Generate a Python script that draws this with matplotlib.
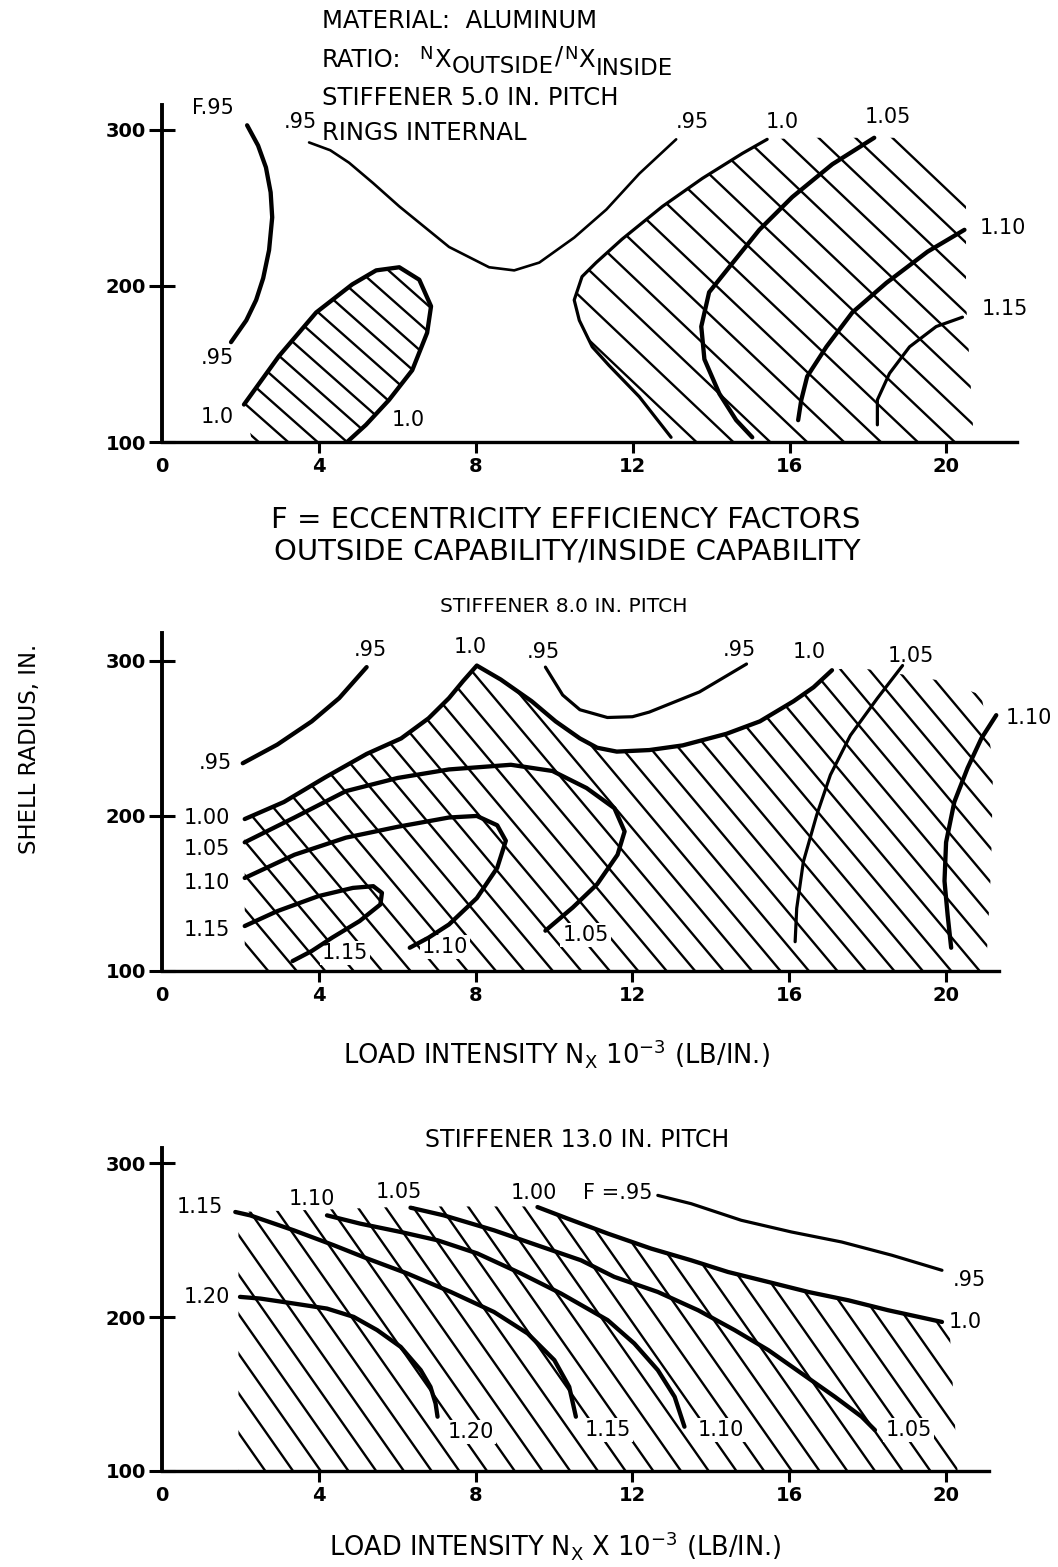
import numpy as np
import matplotlib
matplotlib.use('Agg')
import matplotlib.pyplot as plt
from matplotlib.patches import Polygon

W, H = 1058, 1567
TXT = 'DejaVu Sans'
LAB = 'DejaVu Sans'
LABSIZE = 15

THICK, MED, THIN, HLW = 3.1, 2.3, 1.9, 1.7

# ---------------- panel 1 : stiffener 5.0 in. pitch ----------------
p1_f95_x = [2.17, 2.45, 2.65, 2.77, 2.81, 2.73, 2.58, 2.40, 2.15, 1.76]
p1_f95_y = [303, 290, 276, 260, 244, 223, 205, 191, 178, 164]
p1_95_x = [3.75, 4.29, 4.77, 5.38, 6.05, 7.32, 8.34, 8.98, 9.62, 10.51, 11.33, 12.17, 13.11]
p1_95_y = [292, 287, 279, 266, 251, 225, 212, 210, 215, 231, 249, 272, 294]
p1_blob_x = [2.09, 2.98, 3.93, 4.85, 5.46, 6.05, 6.56, 6.86, 6.76, 6.38, 5.79, 5.20, 4.72]
p1_blob_y = [124, 155, 183, 201, 210, 212, 204, 187, 170, 146, 127, 111, 100]
p1_blob_edge_x = [2.3]
p1_blob_edge_y = [100]
p1_10_x = [12.98, 12.17, 11.40, 10.97, 10.64, 10.51, 10.71, 11.07, 11.73, 12.76, 13.78, 14.80, 15.43]
p1_10_y = [103, 129, 149, 161, 178, 191, 206, 215, 230, 251, 269, 285, 294]
p1_edge_x = [16.4, 19.2, 20.5, 20.5, 20.7, 13.1]
p1_edge_y = [295, 295, 268, 191, 100, 100]
p1_105_x = [18.16, 17.09, 16.07, 15.23, 14.46, 13.95, 13.75, 13.83, 14.21, 14.64, 15.05]
p1_105_y = [295, 278, 257, 236, 212, 196, 174, 153, 131, 114, 103]
p1_110_x = [20.46, 19.52, 18.47, 17.60, 16.94, 16.45, 16.30, 16.22]
p1_110_y = [236, 222, 202, 183, 161, 142, 127, 114]
p1_115_x = [20.41, 19.74, 19.06, 18.55, 18.24, 18.24]
p1_115_y = [180, 174, 161, 144, 127, 111]
p1_labels = [('F.95', 1.30, 314), ('.95', 1.40, 154), ('.95', 3.52, 305), ('.95', 13.52, 305),
             ('1.0', 1.40, 116), ('1.0', 6.28, 114), ('1.0', 15.82, 305), ('1.05', 18.5, 308),
             ('1.10', 21.45, 237), ('1.15', 21.5, 185)]

# ---------------- panel 2 : stiffener 8.0 in. pitch ----------------
p2_95a_x = [2.06, 2.94, 3.82, 4.52, 5.22]
p2_95a_y = [234, 246, 261, 276, 296]
p2_10_x = [2.11, 3.11, 4.17, 5.22, 6.10, 6.80, 7.32, 7.68, 8.03, 8.64, 9.43, 10.04, 10.66,
           11.10, 11.6, 12.43, 13.28, 14.40, 15.25, 16.11, 16.62, 17.09]
p2_10_y = [198, 209, 225, 240, 250, 263, 276, 287, 297, 288, 274, 261, 250,
           244, 241.5, 242.5, 245.5, 253, 261, 274, 283, 294]
p2_edge_x = [17.65, 19.23, 19.91, 20.90, 21.20, 21.15, 21.02, 2.11]
p2_edge_y = [296, 290, 287, 278, 235, 168, 100, 100]
p2_95b_x = [9.78, 10.22, 10.66, 11.36, 12.0, 12.43, 13.71, 14.91]
p2_95b_y = [296, 278, 268.5, 263.5, 264, 267, 280, 298]
p2_105_x = [2.11, 3.38, 4.69, 6.01, 7.32, 8.90, 9.96, 10.83, 11.54, 11.80, 11.62, 11.10, 10.48, 9.78]
p2_105_y = [183, 199, 216, 224.5, 230, 233, 229, 218, 205, 190, 175, 156, 141, 126]
p2_110_x = [2.11, 3.38, 4.69, 6.01, 7.32, 8.03, 8.55, 8.77, 8.55, 8.03, 7.32, 6.80, 6.32]
p2_110_y = [160, 175, 186, 193, 199, 200, 194, 184, 166.5, 147, 130, 121.5, 115]
p2_115_x = [2.11, 2.94, 3.99, 4.87, 5.39, 5.61, 5.57, 5.04, 4.34, 3.82, 3.33]
p2_115_y = [129, 138.6, 148.3, 153.6, 154.7, 150.4, 142.9, 132.2, 121.5, 112.9, 106.4]
p2_105r_x = [18.89, 18.25, 17.56, 17.05, 16.70, 16.36, 16.19, 16.15]
p2_105r_y = [297, 276, 252, 226.5, 200.6, 170.5, 140.4, 118.9]
p2_110r_x = [21.28, 20.90, 20.55, 20.21, 20.0, 19.96, 20.04, 20.13]
p2_110r_y = [265, 250, 231, 209, 183, 158, 136, 115]
p2_labels = [('.95', 1.35, 234), ('.95', 5.31, 307), ('1.0', 7.86, 309), ('.95', 9.72, 306),
             ('.95', 14.74, 307), ('1.0', 16.5, 306), ('1.05', 19.1, 303), ('1.10', 22.1, 263),
             ('1.00', 1.15, 199), ('1.05', 1.15, 179), ('1.10', 1.15, 157), ('1.15', 1.15, 126.5)]
p2_inner_labels = [('1.15', 4.67, 111.6), ('1.10', 7.22, 115.5), ('1.05', 10.8, 123)]

# ---------------- panel 3 : stiffener 13.0 in. pitch ----------------
p3_115_x = [1.87, 2.25, 3.36, 4.38, 5.24, 6.26, 7.37, 8.47, 9.33, 10.01, 10.39, 10.56]
p3_115_y = [268.4, 266.2, 256.5, 246.8, 238.1, 228.4, 216.4, 203.4, 189.4, 172.1, 154.7, 135.3]
p3_110_x = [4.21, 5.06, 6.09, 7.03, 8.05, 9.16, 10.18, 11.37, 12.05, 12.65, 13.08, 13.33]
p3_110_y = [266.2, 260.8, 255.4, 250.0, 241.4, 228.4, 215.4, 198.1, 182.9, 165.6, 148.2, 128.8]
p3_105_x = [6.34, 7.19, 8.47, 9.33, 10.69, 11.54, 12.65, 13.68, 14.61, 15.47, 16.32, 17.17, 17.85, 18.19]
p3_105_y = [271.2, 266.2, 256.5, 248.9, 237.0, 226.2, 216.4, 204.5, 191.6, 178.6, 163.4, 148.2, 135.3, 126.6]
p3_10_x = [9.58, 10.35, 11.37, 12.48, 13.50, 14.44, 15.47, 16.49, 17.51, 18.53, 19.90]
p3_10_y = [271.6, 264.1, 254.4, 244.6, 237.0, 229.4, 222.9, 216.4, 211.0, 204.5, 196.9]
p3_95_x = [12.65, 13.50, 14.78, 16.06, 17.34, 18.62, 19.90]
p3_95_y = [279.2, 273.8, 263.0, 255.4, 248.9, 240.3, 230.5]
p3_120_x = [1.99, 2.51, 3.36, 4.21, 4.89, 5.49, 6.09, 6.60, 6.85, 6.98, 7.03]
p3_120_y = [213.2, 212.1, 208.9, 205.6, 200.2, 191.6, 180.7, 165.6, 154.7, 143.9, 135.3]
p3_left_x = [1.95, 1.95, 1.87, 4.2, 6.3, 9.3]
p3_left_y = [100, 255, 268.4, 270, 272, 272]
p3_right_x = [20.1, 20.3]
p3_right_y = [190, 100]
p3_labels = [('1.15', 0.97, 271.6), ('1.10', 3.83, 277), ('1.05', 6.04, 281.4), ('1.00', 9.49, 280.5),
             ('F =.95', 11.64, 280.5), ('.95', 20.6, 224), ('1.0', 20.49, 196.8), ('1.20', 1.14, 213.2)]
p3_inner_labels = [('1.20', 7.88, 125.5), ('1.15', 11.37, 126.6), ('1.10', 14.27, 126.6), ('1.05', 19.05, 126.6)]

xticks = [0, 4, 8, 12, 16, 20]
yticks = [100, 200, 300]

plt.rcParams['font.family'] = 'DejaVu Sans'
fig = plt.figure(figsize=(W / 100, H / 100), dpi=100)


def make_axes(left, right, base, top, xmax, ymax):
    ax = fig.add_axes([left / W, 1 - base / H, (right - left) / W, (base - top) / H])
    ax.set_xlim(0, xmax)
    ax.set_ylim(100, ymax)
    for s in ['top', 'right']:
        ax.spines[s].set_visible(False)
    ax.spines['left'].set_linewidth(2.8)
    ax.spines['bottom'].set_linewidth(2.4)
    ax.set_xticks(xticks)
    ax.set_yticks(yticks)
    ax.tick_params(axis='y', direction='inout', length=19, width=2.2, pad=2, labelsize=14)
    ax.tick_params(axis='x', direction='out', length=8, width=2.2, pad=3, labelsize=14)
    ax.xaxis.get_major_ticks()[0].tick1line.set_visible(False)
    for lab in ax.get_xticklabels() + ax.get_yticklabels():
        lab.set_fontweight('bold')
    return ax


def hatch(ax, xs, ys, angle, step, lw=HLW):
    verts = np.column_stack([xs, ys])
    poly = Polygon(verts, closed=True, fill=False, edgecolor='none')
    ax.add_patch(poly)
    pix = ax.transData.transform(verts)
    a = np.radians(angle)
    d = np.array([np.cos(a), -np.sin(a)])
    n = np.array([np.sin(a), np.cos(a)])
    proj = pix @ n
    along = pix @ d
    inv = ax.transData.inverted()
    for off in np.arange(np.floor(proj.min() / step) * step, proj.max() + step, step):
        p0 = n * off + d * (along.min() - 20)
        p1 = n * off + d * (along.max() + 20)
        q = inv.transform([p0, p1])
        ln, = ax.plot(q[:, 0], q[:, 1], color='k', lw=lw, solid_capstyle='butt', zorder=2)
        ln.set_clip_path(poly)


def curve(ax, x, y, lw):
    ax.plot(x, y, color='k', lw=lw, solid_joinstyle='round', solid_capstyle='round', zorder=4)


def labels(ax, items, boxed=False):
    for s, x, y in items:
        kw = {}
        if boxed:
            kw['bbox'] = dict(fc='white', ec='none', pad=1.5)
        ax.text(x, y, s, ha='center', va='center', fontsize=LABSIZE, family=LAB, zorder=3, **kw)


# panel 1
ax1 = make_axes(162, 1017, 442, 105, 21.8, 316)
hatch(ax1, p1_blob_x + p1_blob_edge_x, p1_blob_y + p1_blob_edge_y, 41.5, 19.5)
hatch(ax1, p1_10_x + p1_edge_x, p1_10_y + p1_edge_y, 43.5, 25.4)
curve(ax1, p1_f95_x, p1_f95_y, THICK)
curve(ax1, p1_95_x, p1_95_y, THIN)
curve(ax1, p1_blob_x, p1_blob_y, THICK)
curve(ax1, p1_10_x, p1_10_y, MED)
curve(ax1, p1_105_x, p1_105_y, THICK)
curve(ax1, p1_110_x, p1_110_y, THICK)
curve(ax1, p1_115_x, p1_115_y, MED)
labels(ax1, p1_labels)

# panel 2
ax2 = make_axes(162, 999, 971, 633, 21.35, 318)
hatch(ax2, p2_10_x + p2_edge_x, p2_10_y + p2_edge_y, 50, 21.8)
curve(ax2, p2_95a_x, p2_95a_y, THICK)
curve(ax2, p2_10_x, p2_10_y, THICK)
curve(ax2, p2_95b_x, p2_95b_y, MED)
curve(ax2, p2_105_x, p2_105_y, THICK)
curve(ax2, p2_110_x, p2_110_y, THICK)
curve(ax2, p2_115_x, p2_115_y, THICK)
curve(ax2, p2_105r_x, p2_105r_y, MED)
curve(ax2, p2_110r_x, p2_110r_y, THICK)
labels(ax2, p2_labels)
labels(ax2, p2_inner_labels, boxed=True)

# panel 3
ax3 = make_axes(162, 989, 1471, 1148, 21.1, 310)
hatch(ax3, p3_left_x + p3_10_x + p3_right_x, p3_left_y + p3_10_y + p3_right_y, 55, 22.7)
curve(ax3, p3_115_x, p3_115_y, THICK)
curve(ax3, p3_110_x, p3_110_y, THICK)
curve(ax3, p3_105_x, p3_105_y, THICK)
curve(ax3, p3_10_x, p3_10_y, THICK)
curve(ax3, p3_95_x, p3_95_y, MED)
curve(ax3, p3_120_x, p3_120_y, THICK)
labels(ax3, p3_labels)
labels(ax3, p3_inner_labels, boxed=True)


# captions
def ftext(px, py, s, size, **kw):
    return fig.text(px / W, 1 - py / H, s, fontsize=size, family=TXT, **kw)


def run_text(px, py, pieces):
    # pieces: (text, size, raise_px, gap_px) laid end to end on one baseline
    renderer = fig.canvas.get_renderer()
    x = px
    for s, size, dy, gap in pieces:
        t = ftext(x, py - dy, s, size, va='baseline')
        x += t.get_window_extent(renderer).width + gap


CAP = 17.5
ftext(322, 28, 'MATERIAL:  ALUMINUM', CAP, va='baseline')
run_text(322, 67, [('RATIO:', CAP, 0, 18), ('N', 13, 8, 1), ('X', CAP, 0, 1),
                   ('OUTSIDE', 16.5, -6, 1), ('/', CAP, 3, 1), ('N', 13, 8, 1),
                   ('X', CAP, 0, 1), ('INSIDE', 16.5, -8, 0)])
ftext(322, 105, 'STIFFENER 5.0 IN. PITCH', CAP, va='baseline')
ftext(322, 140, 'RINGS INTERNAL', CAP, va='baseline')
ftext(566, 520, 'F = ECCENTRICITY EFFICIENCY FACTORS', 21, ha='center', va='center')
ftext(567, 551, 'OUTSIDE CAPABILITY/INSIDE CAPABILITY', 21, ha='center', va='center')
ftext(564, 607, 'STIFFENER 8.0 IN. PITCH', 14.6, ha='center', va='center')
ftext(556, 1053, r'LOAD INTENSITY $\mathregular{N_X}$ $\mathregular{10^{-3}}$ (LB/IN.)', 18.5,
      ha='center', va='center')
ftext(577, 1140, 'STIFFENER 13.0 IN. PITCH', 17, ha='center', va='center')
ftext(555, 1545, r'LOAD INTENSITY $\mathregular{N_X}$ X $\mathregular{10^{-3}}$ (LB/IN.)', 18.5,
      ha='center', va='center')
ftext(30, 749, 'SHELL RADIUS, IN.', 16.4, rotation=90, ha='center', va='center')

fig.savefig('out.png', dpi=100, facecolor='white')
